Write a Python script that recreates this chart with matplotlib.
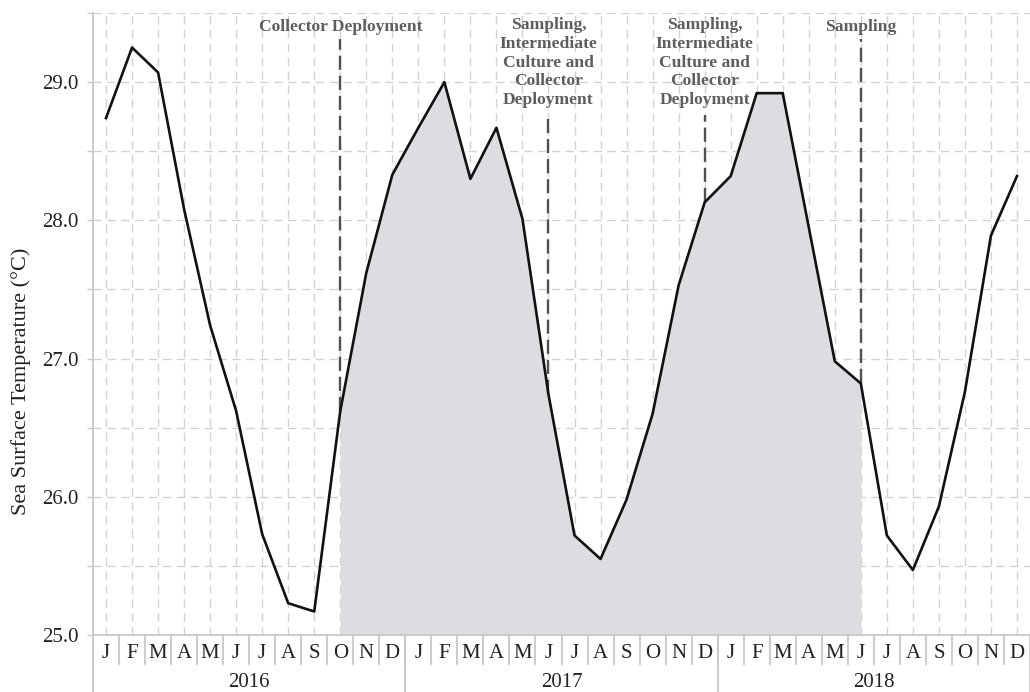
import matplotlib
matplotlib.use("Agg")
import matplotlib.pyplot as plt
import matplotlib.transforms as mtransforms

plt.rcParams['font.family'] = ['Liberation Serif', 'DejaVu Serif']

# monthly sea surface temperature, Jan 2016 - Dec 2018
months = ['J', 'F', 'M', 'A', 'M', 'J', 'J', 'A', 'S', 'O', 'N', 'D'] * 3
years = ['2016', '2017', '2018']
sst = [28.74, 29.25, 29.07, 28.08, 27.24, 26.62, 25.73, 25.23, 25.17, 26.62, 27.62, 28.33,
       28.67, 29.00, 28.30, 28.67, 28.01, 26.74, 25.72, 25.55, 25.98, 26.60, 27.53, 28.13,
       28.32, 28.92, 28.92, 27.95, 26.98, 26.82, 25.72, 25.47, 25.93, 26.76, 27.89, 28.32]

# shaded culture period (month index)
shade_start = 9
shade_end = 29

# events: month index and label
event_idx = [9, 17, 23, 29]
event_labels = ['Collector Deployment',
                'Sampling,\nIntermediate\nCulture and\nCollector\nDeployment',
                'Sampling,\nIntermediate\nCulture and\nCollector\nDeployment',
                'Sampling']

x = list(range(len(sst)))

fig = plt.figure(figsize=(10.3, 6.92), dpi=100)
ax = fig.add_axes([93 / 1030, 57 / 692, 937 / 1030, 622 / 692])

grid_col = '#d2d2d2'
ax.set_xlim(-0.5, 35.5)
ax.set_ylim(25, 29.5)

# grid
for xi in x:
    ax.axvline(xi, color=grid_col, lw=1.0, ls=(0, (6, 4)), zorder=0.5)
for k in range(1, 10):
    ax.axhline(25 + 0.5 * k, color=grid_col, lw=1.0, ls=(0, (6, 4)), zorder=0.5)

# shaded area under the curve
ax.fill_between(x[shade_start:shade_end + 1], 25, sst[shade_start:shade_end + 1],
                color='#dcdde0', lw=0, zorder=1)

# event lines + labels
for idx, lab in zip(event_idx, event_labels):
    multi = '\n' in lab
    top = 28.76 if multi else 29.31
    ax.plot([idx, idx], [sst[idx], top], color='#505050', lw=1.7,
            ls=(0, (6, 2.5)), zorder=2)
    ax.text(idx, 29.14 if multi else 29.40, lab, ha='center', va='center',
            fontsize=12.6, fontweight='bold', color='#5e5e5e', linespacing=1.22,
            zorder=4)

ax.plot(x, sst, color='#111111', lw=1.9, zorder=3)

# axes styling
for s in ['top', 'right']:
    ax.spines[s].set_visible(False)
ax.spines['left'].set_color('#c8c8c8')
ax.spines['left'].set_linewidth(1.3)
ax.spines['bottom'].set_color('#c8c8c8')
ax.spines['bottom'].set_linewidth(1.3)

ax.set_yticks([25, 26, 27, 28, 29])
ax.set_yticklabels(['25.0', '26.0', '27.0', '28.0', '29.0'])
ax.set_yticks([25.5, 26.5, 27.5, 28.5, 29.5], minor=True)
ax.tick_params(axis='y', which='both', length=4.5, width=1.0, color='#c8c8c8',
               labelsize=15, labelcolor='#222222', pad=6)

ax.set_xticks(x)
ax.set_xticklabels(months)
ax.tick_params(axis='x', length=0, labelsize=15, labelcolor='#222222', pad=6.5)

ax.set_ylabel('Sea Surface Temperature (°C)', fontsize=16, color='#222222')
ax.yaxis.set_label_coords(-0.066, 0.408)

# month separators and year groups below the axis
trans = mtransforms.blended_transform_factory(ax.transData, ax.transAxes)
for xi in x[:-1]:
    ax.plot([xi + 0.5, xi + 0.5], [0, -0.046], transform=trans, color='#c8c8c8',
            lw=1.3, clip_on=False)
for k in range(len(years) + 1):
    ax.plot([k * 12 - 0.5, k * 12 - 0.5], [0, -0.095], transform=trans,
            color='#c8c8c8', lw=1.3, clip_on=False)
for k, yr in enumerate(years):
    ax.text(k * 12 + 5.5, -0.077, yr, transform=trans, ha='center', va='center',
            fontsize=15, color='#222222')

fig.savefig('out.png', dpi=100)
